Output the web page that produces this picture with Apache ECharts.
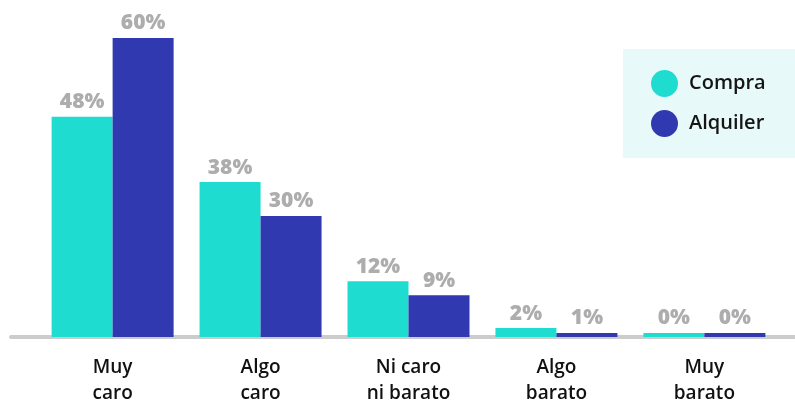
<!DOCTYPE html>
<html>
<head>
<meta charset="utf-8">
<script src="https://cdn.jsdelivr.net/npm/echarts@6/dist/echarts.min.js"></script>
<style>
html,body{margin:0;padding:0;background:#fff;}
#chart{width:795px;height:403px;}
</style>
</head>
<body>
<div id="chart"></div>
<script>
// Data
var categories = ['Muy\ncaro', 'Algo\ncaro', 'Ni caro\nni barato', 'Algo\nbarato', 'Muy\nbarato'];
var seriesNames = ['Compra', 'Alquiler'];
// bar heights as drawn in the picture (percent)
var compraValues = [44.2, 31.1, 11.2, 1.8, 0];
var alquilerValues = [60, 24.3, 8.4, 0.8, 0];
// value labels as printed
var compraLabels = ['48%', '38%', '12%', '2%', '0%'];
var alquilerLabels = ['60%', '30%', '9%', '1%', '0%'];

var colors = ['#1fdcd1', '#3139b0'];

var chart = echarts.init(document.getElementById('chart'), null, {renderer: 'canvas'});

function labelCfg(texts) {
  return {
    show: true,
    position: 'top',
    distance: 4,
    color: '#adadad',
    fontFamily: 'Open Sans',
    fontWeight: 800,
    fontSize: 21,
    formatter: function (p) { return texts[p.dataIndex]; }
  };
}

var option = {
  animation: false,
  backgroundColor: '#ffffff',
  grid: [
    {left: 38.65, right: 16.65, top: 38, bottom: 66, containLabel: false, outerBoundsMode: 'none'},
    {left: 11, right: 0, top: 38, bottom: 66, containLabel: false, outerBoundsMode: 'none'}
  ],
  legend: {
    orient: 'vertical',
    left: 623,
    top: 49,
    padding: [21, 40, 21, 28],
    backgroundColor: '#e7f9f9',
    icon: 'circle',
    itemWidth: 27,
    itemHeight: 27,
    itemGap: 13,
    textStyle: {
      color: '#151515',
      fontFamily: 'Open Sans',
      fontWeight: 600,
      fontSize: 20,
      padding: [0, 0, 0, 6]
    },
    data: seriesNames
  },
  xAxis: [
    {
      type: 'category',
      gridIndex: 0,
      data: categories,
      axisLine: {show: false},
      axisTick: {show: false},
      axisLabel: {
        margin: 18,
        color: '#111111',
        fontFamily: 'Open Sans',
        fontWeight: 600,
        fontSize: 19,
        lineHeight: 26
      }
    },
    {
      type: 'category',
      gridIndex: 1,
      data: [''],
      offset: 2,
      axisLine: {show: true, lineStyle: {color: '#cccccc', width: 4}},
      axisTick: {show: false},
      axisLabel: {show: false}
    }
  ],
  yAxis: [
    {type: 'value', gridIndex: 0, min: 0, max: 60, show: false, splitLine: {show: false}},
    {type: 'value', gridIndex: 1, min: 0, max: 60, show: false, splitLine: {show: false}}
  ],
  series: [
    {
      name: seriesNames[0],
      type: 'bar',
      xAxisIndex: 0, yAxisIndex: 0,
      data: compraValues,
      barWidth: 61,
      barGap: '0%',
      barMinHeight: 4,
      itemStyle: {color: colors[0]},
      label: labelCfg(compraLabels)
    },
    {
      name: seriesNames[1],
      type: 'bar',
      xAxisIndex: 0, yAxisIndex: 0,
      data: alquilerValues,
      barWidth: 61,
      barGap: '0%',
      barMinHeight: 4,
      itemStyle: {color: colors[1]},
      label: labelCfg(alquilerLabels)
    }
  ]
};
chart.setOption(option);
</script>
</body>
</html>
